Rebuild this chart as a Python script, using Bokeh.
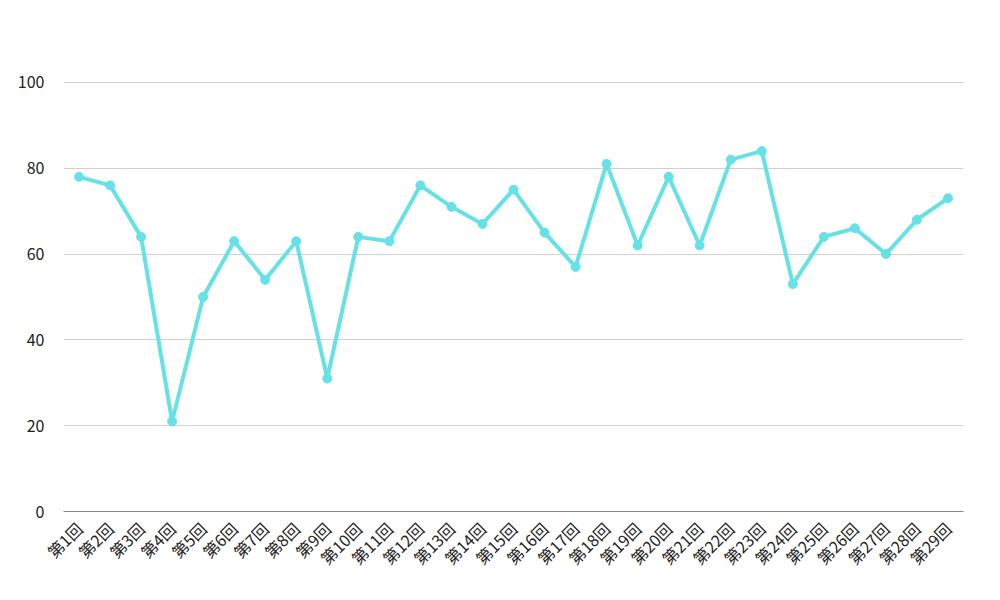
from bokeh.plotting import figure
from bokeh.embed import file_html
from bokeh.resources import INLINE
from bokeh.models import Range1d
import math

categories = [f"第{i}回" for i in range(1, 30)]
values = [78, 76, 64, 21, 50, 63, 54, 63, 31, 64, 63, 76, 71, 67, 75, 65, 57,
          81, 62, 78, 62, 82, 84, 53, 64, 66, 60, 68, 73]
y_ticks = [0, 20, 40, 60, 80, 100]

COLOR = "#66e2e6"
FONT = "Noto Sans CJK JP"

p = figure(frame_width=900, frame_height=472, x_range=categories,
           y_range=Range1d(0, 110),
           output_backend="svg", toolbar_location=None)
p.x_range.range_padding = 0
p.min_border_top = 39
p.min_border_left = 63
p.min_border_right = 21
p.min_border_bottom = 10
p.outline_line_color = None
p.background_fill_color = "white"
p.border_fill_color = "white"

p.line(categories, values, line_color=COLOR, line_width=4)
p.scatter(categories, values, size=9, fill_color=COLOR, line_color=COLOR)

p.yaxis.ticker = y_ticks
p.yaxis.axis_line_color = None
p.yaxis.major_tick_line_color = None
p.yaxis.minor_tick_line_color = None
p.yaxis.major_label_text_font = FONT
p.yaxis.major_label_text_font_size = "16px"
p.yaxis.major_label_text_color = "#222222"
p.yaxis.major_label_standoff = 13

p.xaxis.axis_line_color = "#888888"
p.xaxis.axis_line_width = 1
p.xaxis.major_tick_line_color = None
p.xaxis.minor_tick_line_color = None
p.xaxis.major_label_orientation = math.pi / 4
p.xaxis.major_label_text_font = FONT
p.xaxis.major_label_text_font_size = "16px"
p.xaxis.major_label_text_color = "#222222"
p.xaxis.major_label_standoff = 8

p.xgrid.grid_line_color = None
p.ygrid.grid_line_color = "#d0d0d0"
p.ygrid.grid_line_width = 1

open("out.html", "w").write(file_html(p, INLINE))
